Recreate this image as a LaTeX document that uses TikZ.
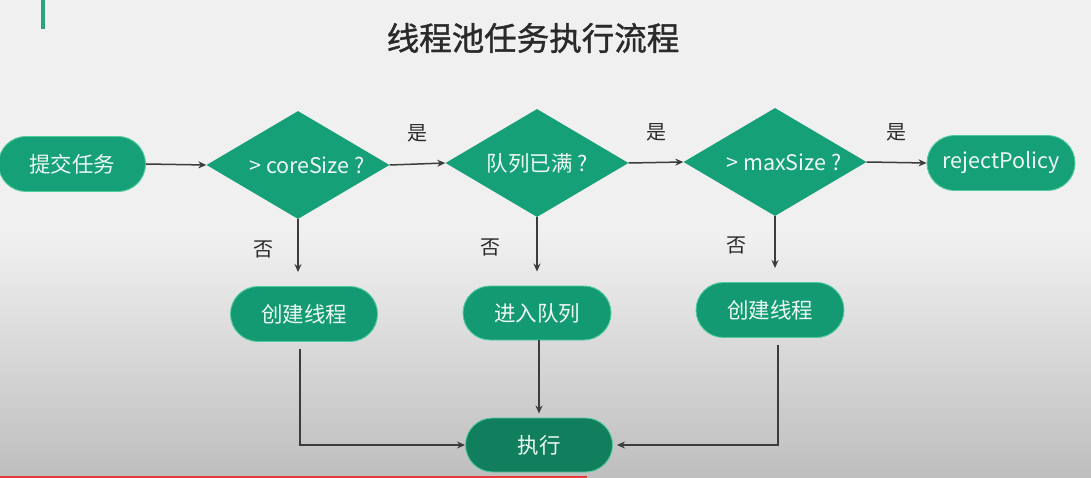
\documentclass[tikz,border=0pt]{standalone}
\usepackage{fontspec}
\setmainfont{Noto Sans CJK SC}
\newfontfamily\titlefont[FakeBold=1.2]{Noto Sans CJK SC}
\usetikzlibrary{shapes.geometric,shapes.misc,arrows.meta}
\definecolor{gmain}{HTML}{16A078}
\definecolor{gmid}{HTML}{149A72}
\definecolor{gdark}{HTML}{117F5D}
\definecolor{gedge}{HTML}{4FCB9C}
\definecolor{gtxt}{HTML}{EEF8F3}
\definecolor{bgtop}{HTML}{F0F0F0}
\definecolor{bgbot}{HTML}{BEBEBE}
\definecolor{arr}{HTML}{3C3C3C}
\definecolor{lbltxt}{HTML}{2A2A2A}
\definecolor{barred}{HTML}{E53935}
\definecolor{bargreen}{HTML}{2BA57F}
\tikzset{
  stadium/.style={rounded rectangle, rounded rectangle arc length=180,
    minimum width=147pt, minimum height=55pt, inner sep=0pt,
    fill=gmain, draw=gedge, line width=0.9pt, text=gtxt,
    font=\fontsize{21.5}{25}\selectfont},
  decide/.style={diamond, aspect=1.7, minimum width=183pt, minimum height=108pt,
    inner sep=0pt, fill=gmain, text=gtxt, font=\fontsize{21.5}{25}\selectfont},
  flow/.style={draw=arr, line width=1.5pt, -{Stealth[length=8pt,width=7pt]}},
  lbl/.style={text=lbltxt, font=\fontsize{20}{24}\selectfont, inner sep=0pt}
}
\begin{document}
\begin{tikzpicture}[x=1pt,y=-1pt]
\useasboundingbox (0,0) rectangle (1091,478);
\fill[bgtop] (0,0) rectangle (1091,235);
\shade[top color=bgtop, bottom color=bgbot] (0,235) rectangle (1091,478);
\fill[bargreen] (41,0) rectangle (45,29);
\fill[barred] (0,475.5) rectangle (587,478);

\node[text=lbltxt, font=\titlefont\fontsize{32.5}{38}\selectfont, inner sep=0pt] (title) at (533,38) {线程池任务执行流程};

\node[stadium] (submit) at (72,164) {提交任务};
\node[decide] (d1) at (298,165) {\hspace*{18pt}> coreSize ?};
\node[decide] (d2) at (537,163) {队列已满 ?};
\node[decide] (d3) at (775,162) {\hspace*{18pt}> maxSize ?};
\node[stadium, minimum width=148pt] (reject) at (1001,163) {rejectPolicy};

\node[stadium, fill=gmid] (c1) at (304,314) {创建线程};
\node[stadium, fill=gmid, minimum width=148pt, minimum height=54pt] (q) at (537,313) {进入队列};
\node[stadium, fill=gmid, minimum width=148pt] (c2) at (770,310) {创建线程};
\node[stadium, fill=gdark, minimum height=54pt] (exec) at (539,445) {执行};

\draw[flow] (submit.east) -- (d1.west);
\draw[flow] (d1.east) -- node[lbl, above=21pt] (y1) {是} (d2.west);
\draw[flow] (d2.east) -- node[lbl, above=21pt] (y2) {是} (d3.west);
\draw[flow] (d3.east) -- node[lbl, above=21pt] (y3) {是} (reject.west);

\draw[flow, shorten >=14pt] (d1.south) -- node[lbl, left=24pt, pos=0.45] (n1) {否} (d1.south |- c1.north);
\draw[flow, shorten >=14pt] (d2.south) -- node[lbl, left=36pt, pos=0.45] (n2) {否} (d2.south |- q.north);
\draw[flow, shorten >=14pt] (d3.south) -- node[lbl, left=28pt, pos=0.45] (n3) {否} (d3.south |- c2.north);

\draw[flow, shorten <=7pt] ([xshift=-4pt]c1.south) |- (exec.west);
\draw[flow, shorten >=4pt] (q.south -| exec.north) -- (exec.north);
\draw[flow, shorten <=7pt, shorten >=4pt] ([xshift=8pt]c2.south) |- (exec.east);
\end{tikzpicture}
\end{document}
